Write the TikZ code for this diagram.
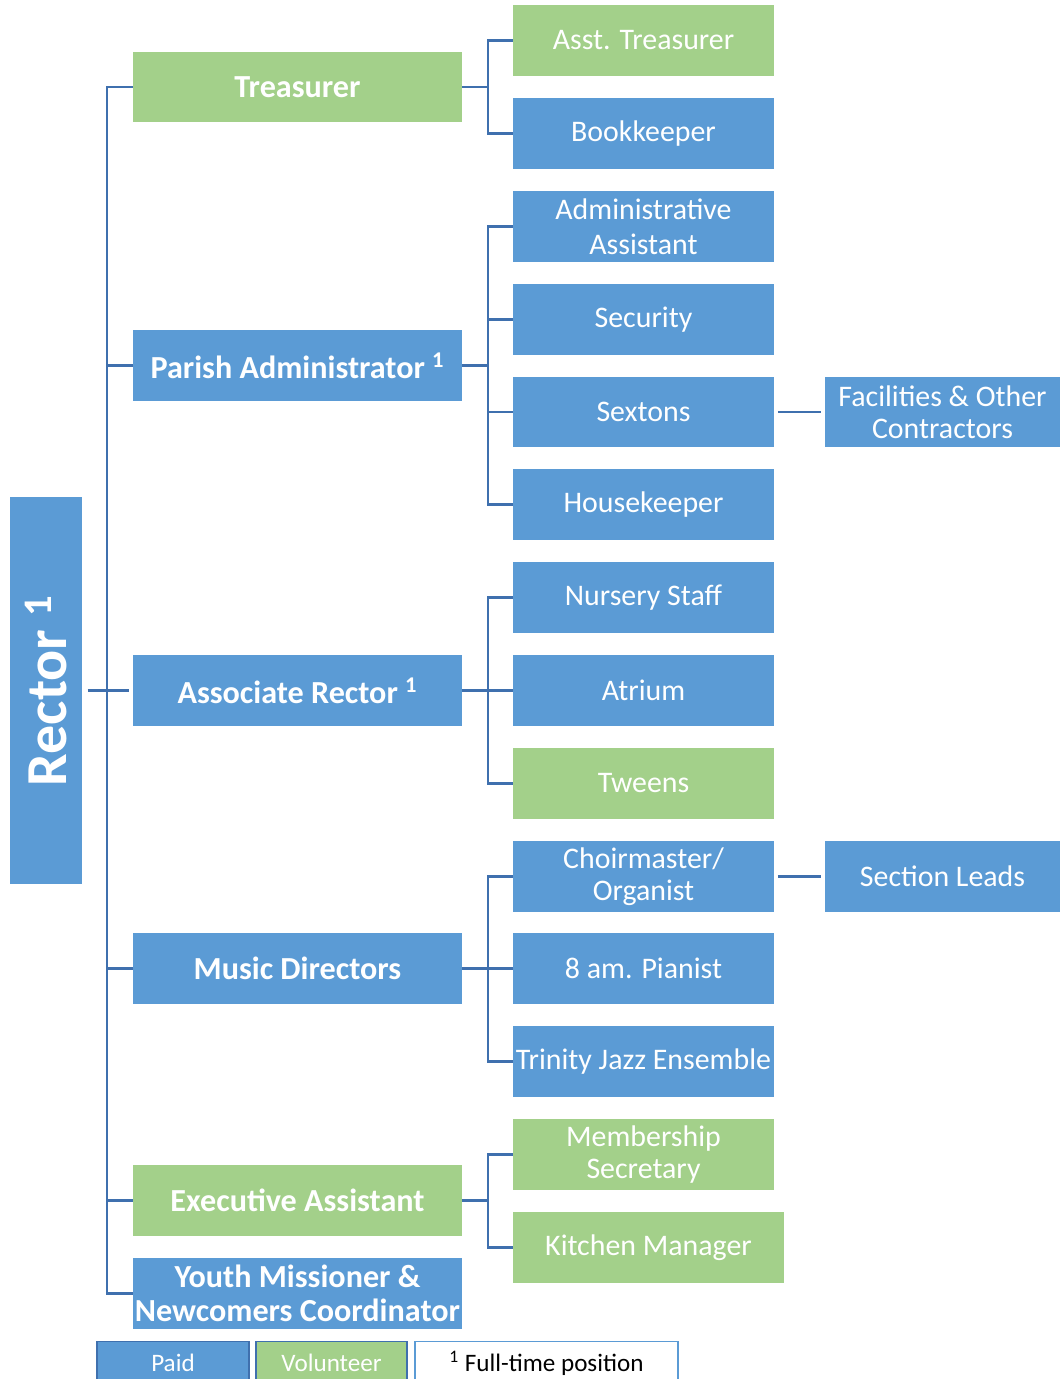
\documentclass[tikz,border=0pt]{standalone}
\usepackage{fontspec}
\setmainfont{Carlito}
\definecolor{paid}{HTML}{5B9BD5}
\definecolor{vol}{HTML}{A3D08A}
\definecolor{lnc}{HTML}{3F70AE}
\begin{document}
\begin{tikzpicture}[x=0.02cm,y=-0.02cm,
  box/.style={inner sep=0pt,text=white,align=center,font=\fontsize{17}{20}\selectfont},
  lone/.style={box,minimum width=6.58cm,minimum height=1.42cm,font=\bfseries\fontsize{18.3}{20}\selectfont},
  ltwo/.style={box,minimum width=5.22cm,minimum height=1.42cm},
  lthree/.style={box,minimum width=4.7cm,minimum height=1.42cm},
  pd/.style={fill=paid},
  vl/.style={fill=vol},
  conn/.style={draw=lnc,line width=1.4pt},
  leg/.style={inner sep=0pt,minimum height=0.86cm,draw=lnc,line width=0.8pt,font=\fontsize{14.3}{16}\selectfont}]
\useasboundingbox (0,0) rectangle (1060,1379);
% Rector
\node[box,pd,minimum width=1.44cm,minimum height=7.74cm] (rector) at (46,690.5) {};
\node[text=white,rotate=90,font=\bfseries\fontsize{33}{35}\selectfont] (rectorlbl) at (rector.center) {Rector \textsuperscript{1}};
% level 1
\node[lone,vl] (treas) at (297.5,87) {Treasurer};
\node[lone,pd] (parish) at (297.5,365.5) {Parish Administrator \textsuperscript{1}};
\node[lone,pd] (assoc) at (297.5,690.5) {Associate Rector \textsuperscript{1}};
\node[lone,pd] (music) at (297.5,968.5) {Music Directors};
\node[lone,vl] (exec) at (297.5,1200.5) {Executive Assistant};
\node[lone,pd] (youth) at (297.5,1293.5) {Youth Missioner \&\\[-0.5pt]Newcomers Coordinator};
% level 2
\node[ltwo,vl] (asst) at (643.5,40.5) {Asst. Treasurer};
\node[ltwo,pd] (book) at (643.5,133.5) {Bookkeeper};
\node[ltwo,pd] (admin) at (643.5,226.5) {Administrative\\Assistant};
\node[ltwo,pd] (sec) at (643.5,319.5) {Security};
\node[ltwo,pd] (sext) at (643.5,412) {Sextons};
\node[ltwo,pd] (house) at (643.5,504.5) {Housekeeper};
\node[ltwo,pd] (nurs) at (643.5,597.5) {Nursery Staff};
\node[ltwo,pd] (atr) at (643.5,690.5) {Atrium};
\node[ltwo,vl] (tween) at (643.5,783.5) {Tweens};
\node[ltwo,pd] (choir) at (643.5,876.5) {Choirmaster/\\[-1.5pt]Organist};
\node[ltwo,pd] (pian) at (643.5,968.5) {8 am. Pianist};
\node[ltwo,pd] (jazz) at (643.5,1061.5) {Trinity Jazz Ensemble};
\node[ltwo,vl] (memb) at (643.5,1154.5) {Membership\\[-1.5pt]Secretary};
\node[ltwo,vl,minimum width=5.42cm] (kitch) at (648.5,1247.5) {Kitchen Manager};
% level 3
\node[lthree,pd] (fac) at (942.5,412) {Facilities \& Other\\[-1.5pt]Contractors};
\node[lthree,pd] (sect) at (942.5,876.5) {Section Leads};
% buses
\coordinate (b1) at (107,0);
\coordinate (b2) at (488,0);
\draw[conn] (treas.west) -- (treas.west -| b1) -- (youth.west -| b1) -- (youth.west);
\draw[conn] (parish.west) -- (parish.west -| b1);
\draw[conn] (music.west) -- (music.west -| b1);
\draw[conn] (exec.west) -- (exec.west -| b1);
\draw[conn,shorten <=3pt,shorten >=2pt] (rector.east) -- (assoc.west);
% treasurer group
\draw[conn] (treas.east) -- (treas.east -| b2);
\draw[conn] (asst.west) -- (asst.west -| b2) -- (book.west -| b2) -- (book.west);
% parish group
\draw[conn] (parish.east) -- (parish.east -| b2);
\draw[conn] (admin.west) -- (admin.west -| b2) -- (house.west -| b2) -- (house.west);
\draw[conn] (sec.west) -- (sec.west -| b2);
\draw[conn] (sext.west) -- (sext.west -| b2);
% associate group
\draw[conn] (assoc.east) -- (atr.west);
\draw[conn] (nurs.west) -- (nurs.west -| b2) -- (tween.west -| b2) -- (tween.west);
% music group
\draw[conn] (music.east) -- (pian.west);
\draw[conn] (choir.west) -- (choir.west -| b2) -- (jazz.west -| b2) -- (jazz.west);
% exec group
\draw[conn] (exec.east) -- (exec.east -| b2);
\draw[conn] (memb.west) -- (memb.west -| b2) -- (kitch.west -| b2) -- (kitch.west);
% level 3
\draw[conn,shorten <=2pt,shorten >=2pt] (sext.east) -- (fac.west);
\draw[conn,shorten <=2pt,shorten >=2pt] (choir.east) -- (sect.west);
% legend
\node[leg,fill=paid,text=white,minimum width=3.04cm] (lpaid) at (173,1363) {Paid};
\node[leg,fill=vol,text=white,minimum width=3.02cm] (lvol) at (331.5,1363) {Volunteer};
\node[leg,fill=white,text=black,draw=paid,minimum width=5.26cm] (lft) at (546.5,1363) {\textsuperscript{1} Full-time position};
\end{tikzpicture}
\end{document}
